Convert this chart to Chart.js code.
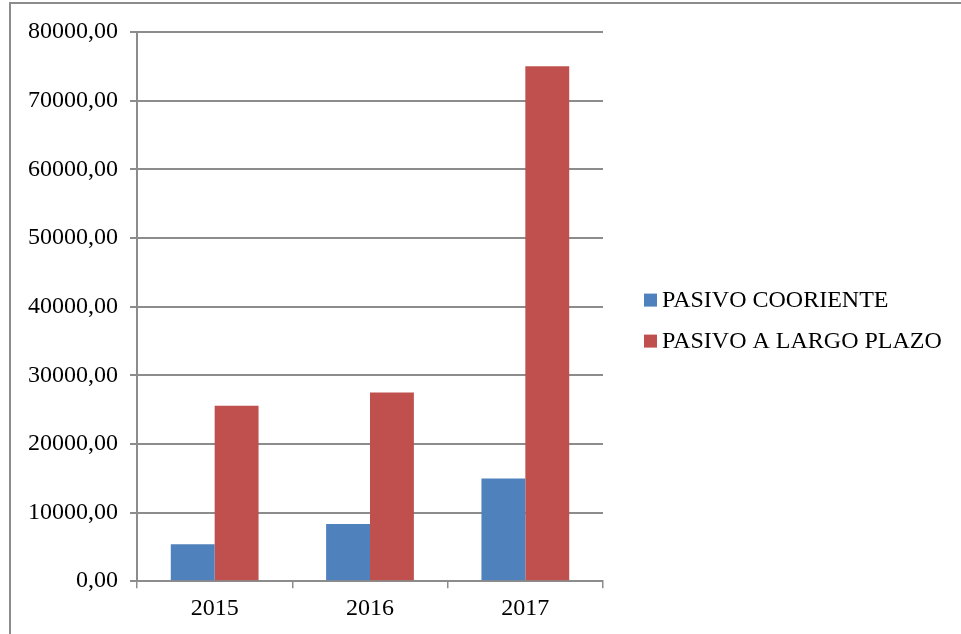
<!DOCTYPE html>
<html>
<head>
<meta charset="utf-8">
<script src="https://cdn.jsdelivr.net/npm/chart.js@4/dist/chart.umd.min.js"></script>
<style>
  html, body { margin: 0; padding: 0; background: #fff; }
  #wrap { position: relative; width: 961px; height: 634px; overflow: hidden; }
  #frame { position: absolute; left: 9px; top: 2px; width: 970px; height: 650px;
           border-left: 2px solid #8c8c8c; border-top: 2px solid #8c8c8c; pointer-events: none; }
  canvas { position: absolute; left: 0; top: 0; }
</style>
</head>
<body>
<div id="wrap">
  <canvas id="chart" width="961" height="634"></canvas>
  <div id="frame"></div>
</div>
<script>
// datos
const years = ["2015", "2016", "2017"];
const pasivoCorriente = [5400, 8350, 14950];
const pasivoLargoPlazo = [25550, 27500, 75000];
const yTicks = [0, 10000, 20000, 30000, 40000, 50000, 60000, 70000, 80000];

const fmt = v => v.toFixed(2).replace(".", ",");
const font = { family: "'Liberation Serif', 'Times New Roman', serif", size: 24 };

// leyenda a la derecha, dibujada a mano para que no se corte
const sideLegend = {
  id: "sideLegend",
  afterDraw(chart) {
    const { ctx, chartArea } = chart;
    const x = chartArea.right + 41;
    const mid = (chartArea.top + chartArea.bottom) / 2;
    ctx.save();
    ctx.font = `${font.size}px ${font.family}`;
    ctx.textBaseline = "middle";
    chart.data.datasets.forEach((ds, i) => {
      const y = mid - 6.5 + i * 41;
      ctx.fillStyle = ds.backgroundColor;
      ctx.fillRect(x, y - 6.5, 13, 13);
      ctx.fillStyle = "#000";
      ctx.fillText(ds.label, x + 18, y + 1);
    });
    ctx.restore();
  }
};

new Chart(document.getElementById("chart"), {
  type: "bar",
  data: {
    labels: years,
    datasets: [
      {
        label: "PASIVO COORIENTE",
        data: pasivoCorriente,
        backgroundColor: "#4f81bd",
        categoryPercentage: 0.565,
        barPercentage: 1
      },
      {
        label: "PASIVO A LARGO PLAZO",
        data: pasivoLargoPlazo,
        backgroundColor: "#c0504d",
        categoryPercentage: 0.565,
        barPercentage: 1
      }
    ]
  },
  options: {
    responsive: false,
    animation: false,
    layout: { padding: { left: 16, top: 32, right: 358, bottom: 5 } },
    plugins: {
      tooltip: { enabled: false },
      legend: { display: false }
    },
    scales: {
      x: {
        grid: {
          offset: true,
          drawOnChartArea: false,
          drawTicks: true,
          tickLength: 7,
          color: "#8c8c8c",
          lineWidth: 1.5
        },
        border: { color: "#8c8c8c", width: 2 },
        ticks: { font: font, color: "#000", padding: 6 }
      },
      y: {
        min: 0,
        max: 80000,
        afterBuildTicks: axis => { axis.ticks = yTicks.map(v => ({ value: v })); },
        grid: { color: "#8c8c8c", lineWidth: 2, tickLength: 7 },
        border: { color: "#8c8c8c", width: 2 },
        ticks: { font: font, color: "#000", padding: 12, callback: v => fmt(v) }
      }
    }
  },
  plugins: [sideLegend]
});
</script>
</body>
</html>
